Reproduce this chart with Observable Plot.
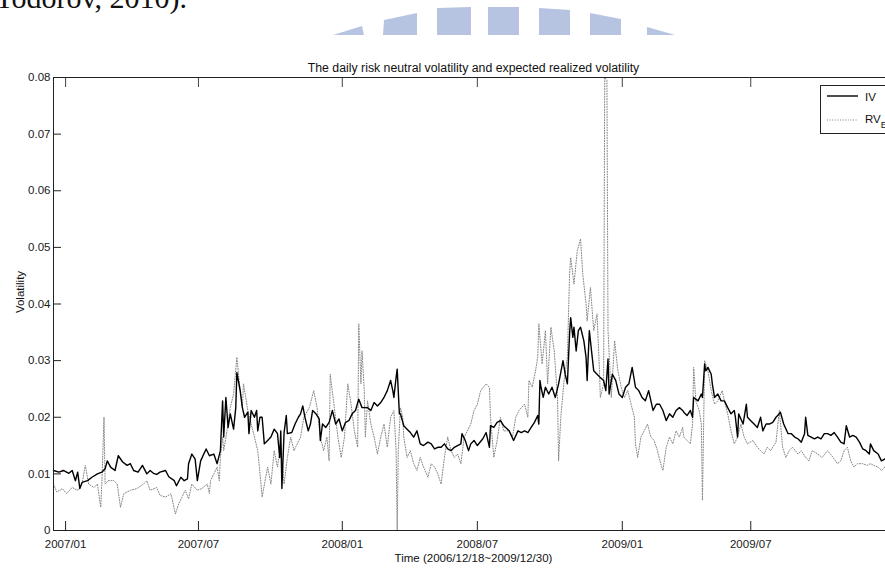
<!DOCTYPE html>
<html>
<head>
<meta charset="utf-8">
<script src="https://cdn.jsdelivr.net/npm/d3@7"></script>
<script src="https://cdn.jsdelivr.net/npm/@observablehq/plot@0.6"></script>
<style>
html, body { margin: 0; padding: 0; background: #fff; width: 885px; height: 570px; overflow: hidden; }
#wrap { position: relative; width: 885px; height: 570px; overflow: hidden; }
#pagetext { position: absolute; right: calc(885px - 187px); top: -18px; font-family: "Liberation Serif", "Times New Roman", serif; font-size: 30px; line-height: 32px; white-space: nowrap; color: #111; }
#watermark { position: absolute; left: 0; top: 0; }
#chart { position: absolute; left: 0; top: 0; width: 905px; }
#chart svg { max-width: none !important; }
#legend { position: absolute; left: 820px; top: 85px; }
</style>
</head>
<body>
<div id="wrap">
  <div id="pagetext">Todorov, 2010).</div>
  <svg id="watermark" width="885" height="40">
    <g fill="#b7c4e1">
      <polygon points="333,35 362,26 364,35"></polygon>
      <polygon points="383,35 384,20 417,13 417,35"></polygon>
      <polygon points="437,35 437,8 471,7 471,35"></polygon>
      <polygon points="488,35 488,7 519,7 519,35"></polygon>
      <polygon points="539,35 539,8 570,10 570,35"></polygon>
      <polygon points="590,35 590,13 621,19 621,35"></polygon>
      <polygon points="647,35 647,27 675,35"></polygon>
    </g>
  </svg>
  <div id="chart"></div>
  <div id="legend"></div>
</div>
<script>
// ---- Data (trading-day index, value) ----
const ivSeries = [
[0,0.0106],[5,0.0103],[9,0.0106],[14,0.0101],[17,0.0106],[20,0.0088],[22,0.0103],[24,0.0074],[26,0.0085],[31,0.0088],
[35,0.0094],[40,0.0100],[44,0.0103],[47,0.0109],[49,0.0123],[52,0.0112],[56,0.0106],[59,0.0132],[63,0.0121],[67,0.0115],
[70,0.0118],[73,0.0106],[77,0.0103],[81,0.0115],[85,0.0100],[88,0.0106],[91,0.0101],[94,0.0099],[97,0.0103],[102,0.0106],
[105,0.0095],[110,0.0088],[112,0.0079],[116,0.0094],[119,0.0088],[122,0.0091],[123,0.0118],[126,0.0135],[129,0.0126],[131,0.0088],
[134,0.0123],[139,0.0144],[142,0.0132],[146,0.0135],[149,0.0118],[152,0.0141],[154,0.0229],[155,0.0165],[157,0.0235],[159,0.0182],
[161,0.0206],[164,0.0179],[166,0.0217],[167,0.0279],[170,0.0247],[172,0.0217],[174,0.0200],[177,0.0209],[178,0.0171],[180,0.0212],
[183,0.0200],[185,0.0212],[186,0.0176],[188,0.0200],[190,0.0200],[192,0.0153],[195,0.0159],[198,0.0165],[201,0.0179],[204,0.0171],
[206,0.0129],[207,0.0176],[208,0.0074],[210,0.0173],[212,0.0203],[213,0.0171],[217,0.0173],[220,0.0188],[223,0.0200],[225,0.0206],
[227,0.0220],[229,0.0200],[232,0.0176],[234,0.0188],[236,0.0212],[239,0.0206],[242,0.0197],[243,0.0159],[245,0.0188],[248,0.0182],
[251,0.0191],[254,0.0212],[257,0.0188],[260,0.0197],[263,0.0176],[266,0.0191],[269,0.0194],[272,0.0206],[275,0.0212],[278,0.0232],
[281,0.0217],[286,0.0217],[289,0.0212],[292,0.0226],[295,0.0220],[298,0.0226],[301,0.0235],[304,0.0247],[307,0.0265],[309,0.0247],
[310,0.0235],[312,0.0270],[313,0.0285],[315,0.0206],[316,0.0206],[319,0.0185],[322,0.0179],[325,0.0173],[328,0.0165],[331,0.0176],
[334,0.0153],[337,0.0150],[341,0.0156],[344,0.0153],[347,0.0144],[350,0.0147],[353,0.0147],[356,0.0153],[359,0.0144],[362,0.0141],
[365,0.0147],[368,0.0150],[371,0.0153],[372,0.0171],[375,0.0159],[378,0.0141],[380,0.0153],[383,0.0159],[386,0.0150],[391,0.0162],
[394,0.0173],[397,0.0147],[398,0.0185],[401,0.0182],[404,0.0191],[407,0.0194],[410,0.0185],[415,0.0176],[419,0.0159],[423,0.0176],
[426,0.0173],[429,0.0176],[432,0.0173],[435,0.0182],[438,0.0191],[441,0.0203],[442,0.0188],[443,0.0265],[444,0.0253],[446,0.0235],
[448,0.0253],[451,0.0241],[454,0.0253],[457,0.0235],[460,0.0259],[464,0.0300],[466,0.0276],[468,0.0259],[470,0.0347],[471,0.0376],
[473,0.0341],[474,0.0359],[476,0.0317],[478,0.0353],[480,0.0359],[483,0.0335],[485,0.0306],[486,0.0265],[488,0.0353],[490,0.0317],
[492,0.0282],[495,0.0276],[498,0.0270],[501,0.0265],[503,0.0247],[505,0.0303],[506,0.0241],[509,0.0276],[512,0.0265],[515,0.0241],
[518,0.0235],[521,0.0253],[524,0.0259],[527,0.0288],[530,0.0253],[533,0.0247],[536,0.0235],[539,0.0229],[542,0.0247],[546,0.0212],
[549,0.0223],[552,0.0223],[555,0.0212],[558,0.0194],[561,0.0206],[564,0.0200],[567,0.0212],[570,0.0217],[573,0.0212],[574,0.0209],
[577,0.0203],[580,0.0212],[582,0.0200],[583,0.0235],[587,0.0229],[590,0.0241],[591,0.0235],[593,0.0294],[594,0.0282],[596,0.0288],
[599,0.0276],[600,0.0259],[602,0.0235],[605,0.0241],[608,0.0229],[611,0.0229],[614,0.0217],[617,0.0206],[620,0.0212],[621,0.0200],
[623,0.0165],[624,0.0206],[628,0.0188],[631,0.0223],[632,0.0200],[635,0.0194],[638,0.0188],[641,0.0182],[644,0.0200],[646,0.0176],
[649,0.0188],[652,0.0188],[655,0.0191],[658,0.0200],[661,0.0206],[662,0.0209],[665,0.0188],[669,0.0171],[672,0.0171],[675,0.0165],
[678,0.0162],[681,0.0156],[684,0.0171],[685,0.0200],[687,0.0168],[690,0.0165],[693,0.0162],[696,0.0165],[699,0.0162],[702,0.0171],
[705,0.0171],[708,0.0168],[711,0.0173],[714,0.0165],[717,0.0156],[720,0.0153],[722,0.0185],[725,0.0165],[728,0.0168],[731,0.0165],
[734,0.0156],[737,0.0144],[740,0.0141],[743,0.0135],[744,0.0153],[747,0.0141],[751,0.0135],[754,0.0123],[757,0.0126],[759,0.0130],
[762,0.0128],[765,0.0125]
];
const rvSeries = [
[0,0.0082],[3,0.0068],[8,0.0074],[12,0.0065],[17,0.0076],[22,0.0071],[26,0.0082],[29,0.0115],[32,0.0082],[37,0.0076],
[40,0.0082],[43,0.0041],[44,0.0082],[46,0.0200],[47,0.0082],[50,0.0088],[55,0.0088],[58,0.0082],[61,0.0041],[64,0.0065],
[70,0.0071],[76,0.0074],[82,0.0082],[85,0.0088],[88,0.0071],[94,0.0076],[97,0.0062],[102,0.0059],[107,0.0065],[111,0.0029],
[114,0.0047],[117,0.0059],[120,0.0071],[123,0.0056],[126,0.0082],[131,0.0071],[135,0.0074],[140,0.0082],[142,0.0065],[143,0.0088],
[146,0.0100],[149,0.0112],[151,0.0088],[152,0.0129],[154,0.0165],[155,0.0141],[158,0.0176],[161,0.0217],[164,0.0241],[167,0.0306],
[169,0.0265],[172,0.0217],[173,0.0259],[177,0.0212],[180,0.0188],[183,0.0165],[186,0.0141],[189,0.0082],[190,0.0059],[195,0.0112],
[198,0.0082],[201,0.0141],[204,0.0112],[207,0.0153],[210,0.0082],[213,0.0129],[216,0.0165],[219,0.0141],[222,0.0153],[225,0.0165],
[228,0.0200],[233,0.0217],[237,0.0247],[240,0.0217],[243,0.0165],[246,0.0141],[249,0.0165],[251,0.0123],[252,0.0276],[255,0.0229],
[259,0.0165],[262,0.0129],[265,0.0165],[268,0.0259],[271,0.0223],[274,0.0176],[277,0.0147],[278,0.0365],[280,0.0259],[281,0.0317],
[283,0.0247],[284,0.0165],[286,0.0229],[289,0.0188],[292,0.0165],[295,0.0135],[298,0.0165],[301,0.0188],[304,0.0147],[307,0.0200],
[310,0.0212],[312,0.0141],[313,0.0000],[314,0.0141],[316,0.0217],[318,0.0200],[319,0.0165],[322,0.0129],[325,0.0141],[328,0.0118],
[331,0.0106],[334,0.0129],[337,0.0112],[341,0.0094],[344,0.0118],[347,0.0112],[350,0.0100],[353,0.0082],[356,0.0129],[359,0.0165],
[362,0.0141],[365,0.0129],[368,0.0135],[371,0.0118],[374,0.0165],[377,0.0176],[380,0.0188],[383,0.0212],[386,0.0223],[389,0.0247],
[394,0.0259],[397,0.0253],[398,0.0200],[401,0.0129],[404,0.0159],[407,0.0200],[410,0.0176],[415,0.0176],[418,0.0165],[421,0.0200],
[424,0.0212],[429,0.0223],[432,0.0200],[433,0.0265],[436,0.0253],[439,0.0282],[441,0.0306],[442,0.0365],[445,0.0294],[448,0.0353],
[450,0.0259],[453,0.0359],[456,0.0317],[459,0.0235],[460,0.0123],[462,0.0200],[465,0.0265],[468,0.0306],[470,0.0453],[471,0.0482],
[474,0.0435],[477,0.0494],[480,0.0515],[482,0.0453],[485,0.0400],[486,0.0370],[489,0.0429],[492,0.0353],[495,0.0382],[497,0.0294],
[498,0.0235],[501,0.0259],[502,0.0800],[504,0.0795],[505,0.0353],[508,0.0235],[511,0.0335],[514,0.0282],[517,0.0253],[520,0.0235],
[523,0.0247],[526,0.0223],[529,0.0200],[530,0.0153],[532,0.0129],[535,0.0165],[538,0.0176],[541,0.0188],[544,0.0165],[547,0.0159],
[550,0.0141],[553,0.0118],[555,0.0106],[558,0.0147],[561,0.0165],[564,0.0153],[567,0.0176],[570,0.0165],[573,0.0182],[574,0.0165],
[577,0.0159],[580,0.0153],[582,0.0188],[583,0.0288],[585,0.0229],[588,0.0212],[590,0.0188],[591,0.0053],[593,0.0300],[596,0.0282],
[599,0.0247],[602,0.0223],[605,0.0229],[609,0.0247],[611,0.0229],[614,0.0206],[617,0.0176],[620,0.0153],[623,0.0165],[626,0.0188],
[629,0.0165],[632,0.0153],[637,0.0159],[641,0.0147],[644,0.0141],[647,0.0135],[650,0.0147],[653,0.0141],[658,0.0156],[661,0.0212],
[664,0.0147],[667,0.0129],[670,0.0141],[673,0.0147],[678,0.0135],[681,0.0141],[685,0.0129],[688,0.0123],[691,0.0141],[696,0.0135],
[700,0.0129],[705,0.0141],[710,0.0129],[714,0.0118],[717,0.0123],[720,0.0141],[723,0.0147],[726,0.0123],[729,0.0112],[732,0.0118],
[737,0.0118],[741,0.0115],[744,0.0118],[747,0.0115],[751,0.0112],[754,0.0106],[757,0.0112],[761,0.0108],[765,0.0110]
];
const dayDomain = [0, 765];
const xTickDays = [11, 132, 263, 386, 518, 635];
const xTickLabels = ["2007/01", "2007/07", "2008/01", "2008/07", "2009/01", "2009/07"];
const yTicks = [0, 0.01, 0.02, 0.03, 0.04, 0.05, 0.06, 0.07, 0.08];
const yTickLabels = ["0", "0.01", "0.02", "0.03", "0.04", "0.05", "0.06", "0.07", "0.08"];
const titleText = "The daily risk neutral volatility and expected realized volatility";
const xLabelText = "Time (2006/12/18~2009/12/30)";
const yLabelText = "Volatility";
const legendNames = ["IV", "RV"];
const legendSub = "E";

// ---- Build ----
const toRows = s => s.map(([day, v]) => ({day, v}));
const iv = toRows(ivSeries);
const rv = toRows(rvSeries);
const xLab = new Map(xTickDays.map((d, i) => [d, xTickLabels[i]]));
const yLab = new Map(yTicks.map((d, i) => [d, yTickLabels[i]]));
const FONT = "'Liberation Sans',Arial,Helvetica,sans-serif";

const chart = Plot.plot({
  width: 905,
  height: 570,
  marginLeft: 53,
  marginRight: 12,
  marginTop: 77,
  marginBottom: 40,
  style: {fontFamily: FONT, fontSize: "11.5px", color: "#1a1a1a", background: "transparent", overflow: "visible", maxWidth: "none"},
  x: {type: "linear", domain: dayDomain},
  y: {type: "linear", domain: [0, 0.08]},
  marks: [
    Plot.line(rv, {x: "day", y: "v", stroke: "#858585", strokeWidth: 1, strokeDasharray: "1,1.6"}),
    Plot.line(iv, {x: "day", y: "v", stroke: "#000", strokeWidth: 1.4}),
    Plot.frame({stroke: "#222"}),
    Plot.axisX(xTickDays, {anchor: "bottom", tickSize: 9, dy: -9, tickPadding: 9, tickFormat: d => xLab.get(d), label: null, stroke: "#222"}),
    Plot.axisX(xTickDays, {anchor: "top", tickSize: 9, dy: 9, tickFormat: () => "", label: null, stroke: "#444"}),
    Plot.axisY(yTicks, {anchor: "left", tickSize: 8, dx: 8, tickPadding: 3, tickFormat: d => yLab.get(d), label: null, stroke: "#222"}),
    Plot.axisY(yTicks, {anchor: "right", tickSize: 8, dx: -8, tickFormat: () => "", label: null, stroke: "#999"}),
    Plot.text([titleText], {frameAnchor: "top", dy: -14, fontSize: 12.3, fill: "#111"}),
    Plot.text([xLabelText], {frameAnchor: "bottom", dy: 31, fontSize: 11.5, fill: "#111"}),
    Plot.text([yLabelText], {frameAnchor: "left", dx: -33, dy: -12, rotate: -90, textAnchor: "middle", fontSize: 11.5, fill: "#111"})
  ]
});
document.getElementById("chart").appendChild(chart);

// ---- Legend (inside axes, top right) ----
const lg = d3.select("#legend").append("svg").attr("width", 80).attr("height", 50)
  .style("font-family", FONT).style("font-size", "11.5px");
lg.append("rect").attr("x", 0.5).attr("y", 0.5).attr("width", 90).attr("height", 48)
  .attr("fill", "#fff").attr("stroke", "#222");
lg.append("line").attr("x1", 7).attr("x2", 38).attr("y1", 11).attr("y2", 11)
  .attr("stroke", "#000").attr("stroke-width", 1.4);
lg.append("text").attr("x", 45).attr("y", 15.5).attr("fill", "#111").text(legendNames[0]);
lg.append("line").attr("x1", 7).attr("x2", 38).attr("y1", 35).attr("y2", 35)
  .attr("stroke", "#858585").attr("stroke-width", 1).attr("stroke-dasharray", "1,1.6");
const t2 = lg.append("text").attr("x", 45).attr("y", 38).attr("fill", "#111");
t2.append("tspan").text(legendNames[1]);
t2.append("tspan").attr("dy", 5).style("font-size", "9.5px").text(legendSub);
</script>
</body>
</html>
